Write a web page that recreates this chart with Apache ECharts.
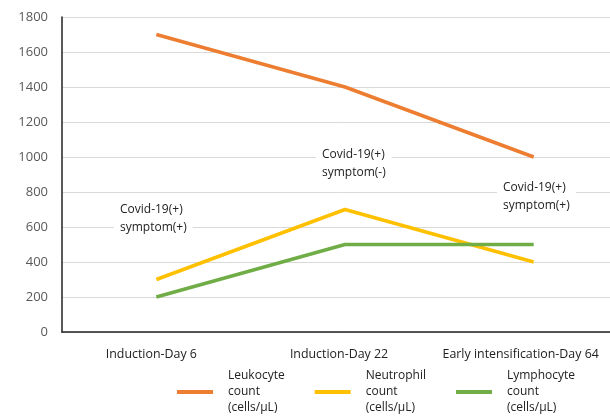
<!DOCTYPE html>
<html>
<head>
    <meta charset="utf-8">
    <title>counts</title>
    <script src="https://cdn.jsdelivr.net/npm/echarts@6/dist/echarts.min.js"></script>
</head>
<body style="margin:0">
    <div id="main" style="height: 418px; width: 610px;"></div>
    <script type="text/javascript">
    var days = ['Induction-Day 6', 'Induction-Day 22', 'Early intensification-Day 64'];
    var leukocyte = [1700, 1400, 1000];
    var neutrophil = [300, 700, 400];
    var lymphocyte = [200, 500, 500];
    var notes = ['Covid-19(+)\nsymptom(+)', 'Covid-19(+)\nsymptom(-)', 'Covid-19(+)\nsymptom(+)'];

    var myChart = echarts.init(document.getElementById('main'));
    var font = '"Open Sans", sans-serif';
    function noteBox(x, y, txt) {
        return {
            type: 'text', left: x, top: y, z: 100,
            style: {
                text: txt, fill: '#222', font: '12px ' + font, lineHeight: 18,
                backgroundColor: '#fff', padding: [3, 6]
            }
        };
    }
    var labelStyle = { color: '#222', fontFamily: font, fontSize: 12.4 };
    var option = {
        animation: false,
        backgroundColor: '#fff',
        grid: { left: 62, width: 566, top: 17, height: 315, outerBoundsMode: 'none', containLabel: false },
        xAxis: {
            type: 'category',
            data: days,
            axisLine: { lineStyle: { color: '#222', width: 1.5 } },
            axisTick: { alignWithLabel: true, inside: true, length: 12, lineStyle: { color: '#222', width: 1.5 } },
            axisLabel: {
                interval: 0, margin: 16,
                formatter: function (v, i) { return '{s' + i + '|' + v + '}'; },
                rich: {
                    s0: Object.assign({ padding: [0, 10, 0, 0] }, labelStyle),
                    s1: Object.assign({ padding: [0, 12, 0, 0] }, labelStyle),
                    s2: Object.assign({ padding: [0, 26, 0, 0] }, labelStyle)
                }
            }
        },
        yAxis: {
            type: 'value',
            min: 0, max: 1800, interval: 200,
            axisLine: { show: true, lineStyle: { color: '#222', width: 1.5 } },
            axisTick: { show: false },
            axisLabel: { color: '#595959', fontFamily: font, fontSize: 13, margin: 14, formatter: function (v) { return String(v); } },
            splitLine: { lineStyle: { color: '#d9d9d9' } }
        },
        legend: {
            orient: 'horizontal',
            top: 363,
            left: 172,
            width: 430,
            itemGap: 30,
            itemWidth: 36,
            itemHeight: 4,
            icon: 'rect',
            textStyle: { color: '#222', fontFamily: font, fontSize: 12, lineHeight: 16, padding: [0, 0, 0, 10] },
            data: ['Leukocyte\ncount\n(cells/µL)', 'Neutrophil\ncount\n(cells/µL)', 'Lymphocyte\ncount\n(cells/µL)']
        },
        graphic: [
            noteBox(114, 198, notes[0]),
            noteBox(316, 143, notes[1]),
            noteBox(497, 176, notes[2])
        ],
        series: [
            { name: 'Leukocyte\ncount\n(cells/µL)', type: 'line', data: leukocyte, symbol: 'none', itemStyle: { color: '#ed7d31' }, lineStyle: { width: 3.5, color: '#ed7d31' } },
            { name: 'Neutrophil\ncount\n(cells/µL)', type: 'line', data: neutrophil, symbol: 'none', itemStyle: { color: '#ffc000' }, lineStyle: { width: 3.5, color: '#ffc000' } },
            { name: 'Lymphocyte\ncount\n(cells/µL)', type: 'line', data: lymphocyte, symbol: 'none', itemStyle: { color: '#70ad47' }, lineStyle: { width: 3.5, color: '#70ad47' } }
        ]
    };
    myChart.setOption(option);
    </script>
</body>
</html>
